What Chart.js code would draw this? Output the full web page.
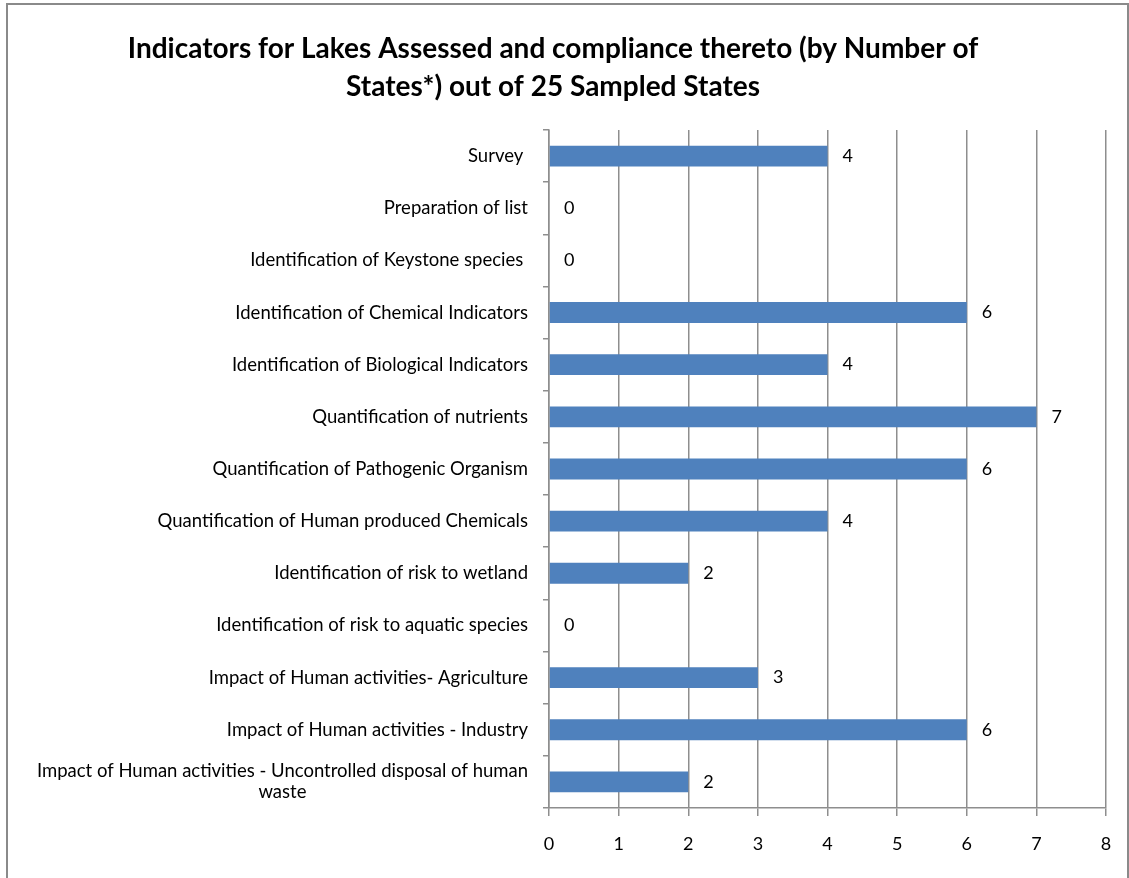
<!DOCTYPE html>
<html>
<head>
<meta charset="utf-8">
<script src="https://cdn.jsdelivr.net/npm/chart.js@4"></script>
<style>
  body { margin: 0; background: #fff; }
  #frame { position: absolute; left: 6px; top: 3px; width: 1119px; height: 900px; border: 2px solid #8a8a8a; }
  canvas { position: absolute; left: 0; top: 0; }
</style>
</head>
<body>
<div id="frame"></div>
<canvas id="chart" width="1129" height="878"></canvas>
<script>
const categories = [
  'Survey ',
  'Preparation of list',
  'Identification of Keystone species ',
  'Identification of Chemical Indicators',
  'Identification of Biological Indicators',
  'Quantification of nutrients',
  'Quantification of Pathogenic Organism',
  'Quantification of Human produced Chemicals',
  'Identification of risk to wetland',
  'Identification of risk to aquatic species',
  'Impact of Human activities- Agriculture',
  'Impact of Human activities - Industry',
  ['Impact of Human activities - Uncontrolled disposal of human', 'waste']
];
const states = [4, 0, 0, 6, 4, 7, 6, 4, 2, 0, 3, 6, 2];

const font = 'Lato, "Open Sans", sans-serif';
const gridGrey = '#8e8e8e';

// excel style category labels: block right aligned, lines centred inside it
const categoryLabels = {
  id: 'categoryLabels',
  afterDraw(chart) {
    const ctx = chart.ctx;
    const y = chart.scales.y;
    ctx.save();
    ctx.font = '18.5px ' + font;
    ctx.fillStyle = '#000';
    ctx.textBaseline = 'middle';
    ctx.textAlign = 'center';
    const right = y.right - 21;
    categories.forEach((c, i) => {
      const lines = Array.isArray(c) ? c : [c];
      const w = Math.max(...lines.map(l => ctx.measureText(l).width));
      const mid = y.getPixelForTick(i);
      const lh = 21;
      lines.forEach((l, k) => {
        ctx.fillText(l, right - w / 2, mid + (k - (lines.length - 1) / 2) * lh);
      });
    });
    ctx.restore();
  }
};

const valueLabels = {
  id: 'valueLabels',
  afterDatasetsDraw(chart) {
    const ctx = chart.ctx;
    const meta = chart.getDatasetMeta(0);
    ctx.save();
    ctx.font = '18px ' + font;
    ctx.fillStyle = '#000';
    ctx.textBaseline = 'middle';
    ctx.textAlign = 'left';
    meta.data.forEach((bar, i) => {
      ctx.fillText(String(states[i]), bar.x + 15, bar.y);
    });
    ctx.restore();
  }
};

new Chart(document.getElementById('chart'), {
  type: 'bar',
  data: {
    labels: categories,
    datasets: [{
      data: states,
      backgroundColor: '#4f81bd',
      borderWidth: 0,
      barPercentage: 0.4,
      categoryPercentage: 1
    }]
  },
  options: {
    indexAxis: 'y',
    responsive: false,
    animation: false,
    layout: {
      padding: {left: 0, right: 23, top: 0, bottom: 26}
    },
    plugins: {
      legend: false,
      tooltip: {enabled: false},
      title: {
        display: true,
        text: ['Indicators for Lakes Assessed and compliance thereto (by Number of', 'States*) out of 25 Sampled States'],
        color: '#000',
        font: {family: font, size: 28, weight: 'bold', lineHeight: 1.357},
        padding: {top: 30, bottom: 24}
      }
    },
    scales: {
      x: {
        min: 0,
        max: 8,
        afterFit(scale) { scale.height = 44; },
        ticks: {
          stepSize: 1,
          color: '#000',
          padding: 17,
          font: {family: font, size: 18}
        },
        grid: {
          color: gridGrey,
          lineWidth: 1.5,
          tickLength: 8
        },
        border: {color: gridGrey, width: 1.5}
      },
      y: {
        afterFit(scale) { scale.width = 549; },
        ticks: {display: false},
        grid: {
          drawOnChartArea: false,
          color: gridGrey,
          lineWidth: 1.5,
          tickLength: 6
        },
        border: {color: gridGrey, width: 1.5}
      }
    }
  },
  plugins: [categoryLabels, valueLabels]
});
</script>
</body>
</html>
